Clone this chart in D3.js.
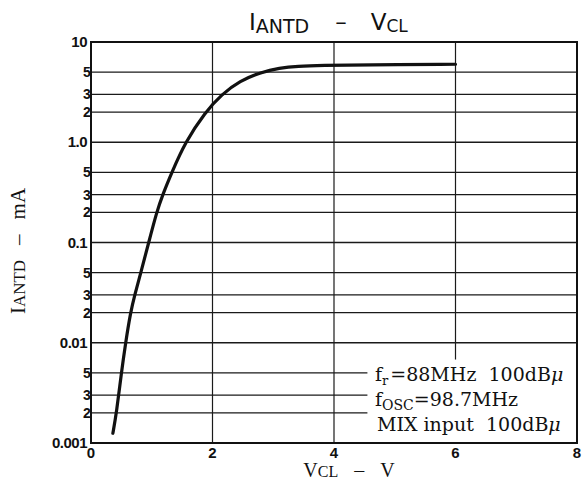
<!DOCTYPE html>
<html>
<head>
<meta charset="utf-8">
<script src="https://cdn.jsdelivr.net/npm/d3@7"></script>
<style>
  body { margin: 0; background: #fff; }
  svg { display: block; }
</style>
</head>
<body>
<script>
// Curve: V_CL (V) and I_ANTD (mA)
var vcl   = [0.36, 0.42, 0.5, 0.57, 0.65, 0.72, 0.82, 0.95, 1.08, 1.18, 1.33, 1.55, 1.88, 2.15, 2.45, 2.8, 3.1, 3.4, 3.8, 4.5, 6.0];
var iantd = [0.00125, 0.002, 0.005, 0.01, 0.02, 0.03, 0.05, 0.1, 0.2, 0.3, 0.5, 1.0, 2.0, 3.0, 4.1, 5.0, 5.5, 5.75, 5.85, 5.92, 6.0];

var xTicks = [0, 2, 4, 6, 8];
var decades = [0.001, 0.01, 0.1, 1, 10];
var decadeLabels = ["0.001", "0.01", "0.1", "1.0", "10"];
var minorSteps = [2, 3, 5];

var svgWidth = 582;
var svgHeight = 489;

var chartMargin = { top: 42, right: 5, bottom: 46, left: 91 };
var chartWidth = svgWidth - chartMargin.left - chartMargin.right;
var chartHeight = svgHeight - chartMargin.top - chartMargin.bottom;

var svg = d3.select("body")
  .append("svg")
  .attr("width", svgWidth)
  .attr("height", svgHeight);

var chartGroup = svg.append("g")
  .attr("transform", `translate(${chartMargin.left}, ${chartMargin.top})`);

var x = d3.scaleLinear().domain([0, 8]).range([0, chartWidth]);
var y = d3.scaleLog().domain([0.001, 10]).range([chartHeight, 0]);

// minor lines 2,3,5 inside each decade
var minors = [];
decades.slice(0, 4).forEach(function(d) {
  minorSteps.forEach(function(m) { minors.push({ v: d * m, m: m }); });
});

// horizontal grid
chartGroup.selectAll(".hgrid")
  .data(decades.concat(minors.map(d => d.v)))
  .enter().append("line")
  .attr("x1", 0).attr("x2", chartWidth)
  .attr("y1", d => y(d)).attr("y2", d => y(d))
  .attr("stroke", "#1a1a1a")
  .attr("stroke-width", 1.3);

// vertical grid
chartGroup.selectAll(".vgrid")
  .data([2, 4, 6])
  .enter().append("line")
  .attr("x1", d => x(d)).attr("x2", d => x(d))
  .attr("y1", 0).attr("y2", chartHeight)
  .attr("stroke", "#1a1a1a")
  .attr("stroke-width", 1.2);

// white box behind the conditions text
chartGroup.append("rect")
  .attr("x", x(4.55)).attr("y", y(0.0068))
  .attr("width", chartWidth - x(4.55)).attr("height", chartHeight - y(0.0068))
  .attr("fill", "#fff");

// frame
chartGroup.append("rect")
  .attr("x", 0).attr("y", 0)
  .attr("width", chartWidth).attr("height", chartHeight)
  .attr("fill", "none")
  .attr("stroke", "#111")
  .attr("stroke-width", 2);

// curve
var pts = vcl.map((v, i) => [v, iantd[i]]);
var line = d3.line()
  .x(d => x(d[0]))
  .y(d => y(d[1]))
  .curve(d3.curveBasis);

chartGroup.append("path")
  .datum(pts)
  .attr("d", line)
  .attr("fill", "none")
  .attr("stroke", "#111")
  .attr("stroke-width", 3.2)
  .attr("stroke-linecap", "round");

// y tick labels
chartGroup.selectAll(".ylab")
  .data(decades)
  .enter().append("text")
  .attr("x", -4)
  .attr("y", d => y(d) + 5)
  .attr("text-anchor", "end")
  .style("font-family", "Liberation Sans, Arial, sans-serif")
  .style("font-weight", "bold")
  .style("font-size", "15px")
  .style("letter-spacing", "-0.5px")
  .attr("fill", "#111")
  .text((d, i) => decadeLabels[i]);

chartGroup.selectAll(".ymin")
  .data(minors)
  .enter().append("text")
  .attr("x", -8)
  .attr("y", d => y(d.v) + 5)
  .style("font-family", "Liberation Sans, Arial, sans-serif")
  .style("font-weight", "bold")
  .style("font-size", "14px")
  .attr("fill", "#111")
  .text(d => d.m);

// x tick labels
chartGroup.selectAll(".xlab")
  .data(xTicks)
  .enter().append("text")
  .attr("x", d => x(d))
  .attr("y", chartHeight + 15)
  .attr("text-anchor", "middle")
  .style("font-family", "Liberation Sans, Arial, sans-serif")
  .style("font-weight", "bold")
  .style("font-size", "15px")
  .attr("fill", "#111")
  .text(d => d);

// title
var title = svg.append("text")
  .attr("x", 249)
  .attr("y", 30)
  .style("font-family", "DejaVu Sans, sans-serif")
  .style("font-size", "23px")
  .attr("fill", "#111");
title.append("tspan").text("I");
title.append("tspan").attr("dy", 3).style("font-size", "19px").text("ANTD");
title.append("tspan").attr("dy", -3).attr("dx", 26).text("–");
title.append("tspan").attr("dx", 24).text("V");
title.append("tspan").attr("dy", 2).style("font-size", "17px").text("CL");

// axis titles
var yTitle = svg.append("text")
  .attr("transform", "translate(25, 251) rotate(-90)")
  .attr("text-anchor", "middle")
  .style("font-family", "Liberation Serif, Times New Roman, serif")
  .style("font-size", "21px")
  .attr("fill", "#111");
yTitle.append("tspan").text("I");
yTitle.append("tspan").style("font-size", "17px").text("ANTD");
yTitle.append("tspan").attr("dx", 15).text("–");
yTitle.append("tspan").attr("dx", 15).text("mA");

var xTitle = svg.append("text")
  .attr("x", 349)
  .attr("y", 477)
  .attr("text-anchor", "middle")
  .style("font-family", "Liberation Serif, Times New Roman, serif")
  .style("font-size", "20px")
  .attr("fill", "#111");
xTitle.append("tspan").text("V");
xTitle.append("tspan").style("font-size", "16px").text("CL");
xTitle.append("tspan").attr("dx", 16).text("–");
xTitle.append("tspan").attr("dx", 16).text("V");

// conditions text
var cond = svg.append("g")
  .style("font-family", "DejaVu Serif, serif")
  .style("font-size", "19px")
  .attr("fill", "#111");

var l1 = cond.append("text").attr("x", 375).attr("y", 381);
l1.append("tspan").text("f");
l1.append("tspan").attr("dy", 4).style("font-size", "13px").text("r");
l1.append("tspan").attr("dy", -4).attr("dx", 2).text("=88MHz\u00a0\u00a0100dB");
l1.append("tspan").style("font-style", "italic").text("μ");

var l2 = cond.append("text").attr("x", 375).attr("y", 406);
l2.append("tspan").text("f");
l2.append("tspan").attr("dy", 4).style("font-size", "14px").text("OSC");
l2.append("tspan").attr("dy", -4).text("=98.7MHz");

var l3 = cond.append("text").attr("x", 377).attr("y", 431);
l3.append("tspan").text("MIX input\u00a0\u00a0100dB");
l3.append("tspan").style("font-style", "italic").text("μ");
</script>
</body>
</html>
